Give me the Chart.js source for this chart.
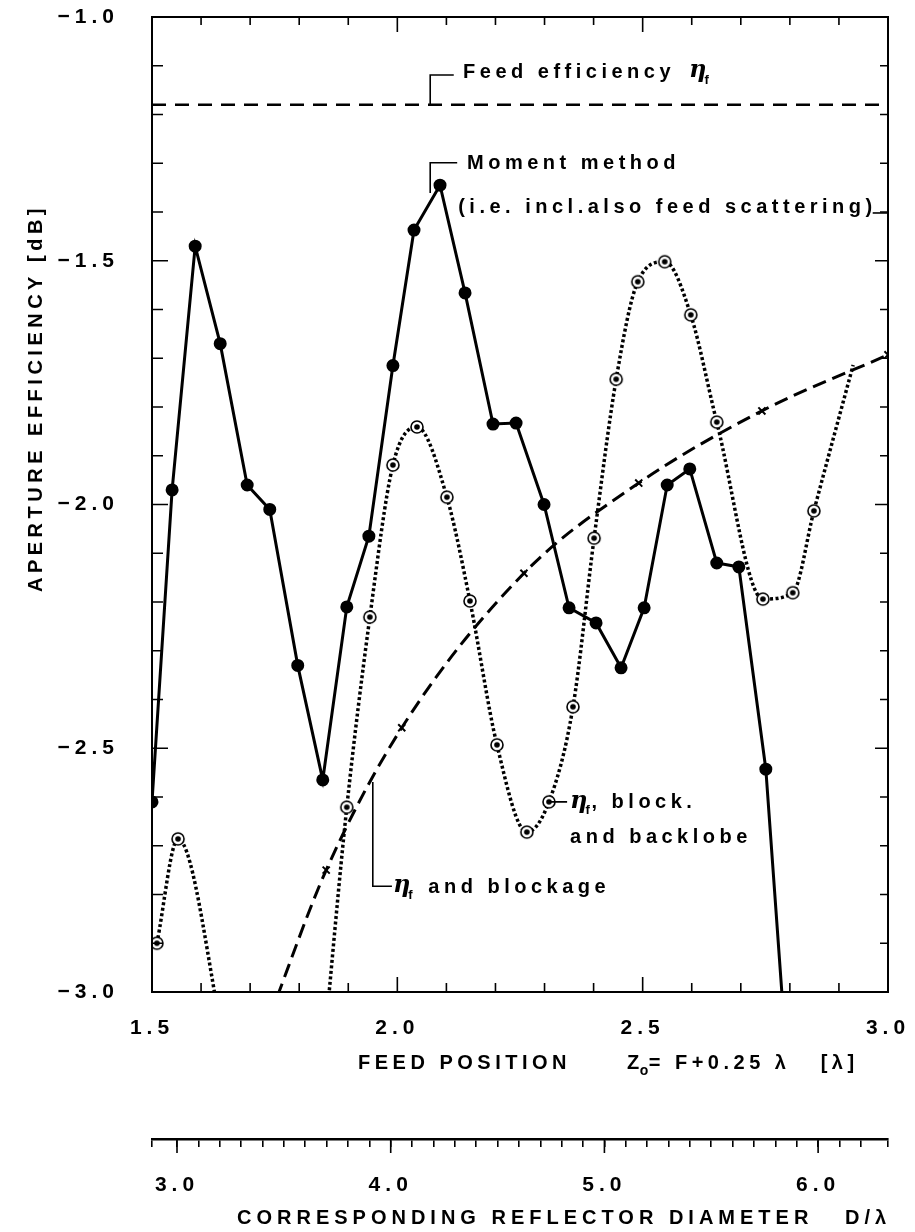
<!DOCTYPE html>
<html>
<head>
<meta charset="utf-8">
<script src="https://cdn.jsdelivr.net/npm/chart.js@4.4.1/dist/chart.umd.min.js"></script>
<style>
  html, body { margin: 0; padding: 0; background: #fff; }
  #wrap { width: 915px; height: 1232px; position: relative; }
</style>
</head>
<body>
<div id="wrap"><canvas id="myChart"></canvas></div>
<script>
// feed position Z0 [lambda] vs aperture efficiency [dB]
const momentX = [1.500, 1.541, 1.588, 1.639, 1.694, 1.740, 1.797, 1.848, 1.897, 1.942, 1.991, 2.034, 2.087, 2.138, 2.195, 2.242, 2.299, 2.350, 2.405, 2.456, 2.503, 2.550, 2.596, 2.651, 2.696, 2.751, 2.800];
const momentY = [-2.61, -1.97, -1.47, -1.67, -1.96, -2.01, -2.33, -2.565, -2.21, -2.065, -1.715, -1.437, -1.345, -1.566, -1.835, -1.833, -2.00, -2.212, -2.243, -2.335, -2.212, -1.96, -1.927, -2.12, -2.128, -2.543, -3.23];
const momentMark = [1, 1, 1, 1, 1, 1, 1, 1, 1, 1, 1, 1, 1, 1, 1, 1, 1, 1, 1, 1, 1, 1, 1, 1, 1, 1, 0];

// eta_f, blockage and backlobe
const backlobeX = [1.510, 1.553, 1.650, 1.750, 1.850, 1.897, 1.944, 1.991, 2.040, 2.101, 2.148, 2.203, 2.264, 2.309, 2.358, 2.401, 2.446, 2.490, 2.545, 2.598, 2.651, 2.745, 2.806, 2.849, 2.929];
const backlobeY = [-2.90, -2.686, -3.12, null, -3.12, -2.621, -2.231, -1.919, -1.841, -1.985, -2.198, -2.493, -2.672, -2.610, -2.415, -2.069, -1.743, -1.543, -1.502, -1.611, -1.831, -2.194, -2.181, -2.013, -1.714];
const backlobeMark = [1, 1, 0, 0, 0, 1, 1, 1, 1, 1, 1, 1, 1, 1, 1, 1, 1, 1, 1, 1, 1, 1, 1, 1, 0];

// eta_f and blockage
const blockX = [1.740, 1.855, 2.009, 2.258, 2.492, 2.743, 3.000];
const blockY = [-3.05, -2.750, -2.458, -2.141, -1.956, -1.808, -1.693];
const blockMark = [0, 1, 1, 1, 1, 1, 1];

// feed efficiency
const feedX = [1.5, 3.0];
const feedY = [-1.18, -1.18];

const xTicks = [1.5, 2.0, 2.5, 3.0];
const yTicks = [-3.0, -2.5, -2.0, -1.5, -1.0];
const diamTicks = [3.0, 4.0, 5.0, 6.0];
const diamMin = 2.883, diamMax = 6.327;

const FONT = '"Liberation Sans", Arial, sans-serif';
Chart.defaults.font.family = FONT;
Chart.defaults.font.size = 21;
Chart.defaults.font.weight = 'bold';
Chart.defaults.color = '#000';

const pts = (xs, ys) => xs.map((x, i) => ({x: x, y: ys[i]}));

const ringDot = (() => {
  const c = document.createElement('canvas');
  c.width = 16; c.height = 16;
  const g = c.getContext('2d');
  g.strokeStyle = '#000'; g.lineWidth = 1.6; g.fillStyle = '#fff';
  g.beginPath(); g.arc(8, 8, 6, 0, Math.PI * 2); g.fill(); g.stroke();
  g.fillStyle = '#000';
  g.beginPath(); g.arc(8, 8, 2.8, 0, Math.PI * 2); g.fill();
  return c;
})();

function txt(ctx, s, x, y, font, spacing) {
  ctx.font = font || ('bold 20px ' + FONT);
  ctx.letterSpacing = (spacing == null ? 4.5 : spacing) + 'px';
  ctx.textAlign = 'left';
  ctx.textBaseline = 'middle';
  ctx.fillText(s, x, y);
  return ctx.measureText(s).width;
}

function eta(ctx, x, y) {
  const w = txt(ctx, 'η', x, y - 1, 'italic bold 24px "DejaVu Serif", serif', 0);
  txt(ctx, 'f', x + w - 2, y + 8, 'bold 13px ' + FONT, 0);
  return w + 6;
}

const decorations = {
  id: 'decorations',
  beforeDraw(chart) {
    chart.ctx.letterSpacing = '5px';
  },
  afterDraw(chart) {
    const {ctx, chartArea: a, scales} = chart;
    const {x, y, x2} = scales;
    ctx.save();
    ctx.strokeStyle = '#000';
    ctx.fillStyle = '#000';

    // frame
    ctx.lineWidth = 2;
    ctx.strokeRect(a.left, a.top, a.right - a.left, a.bottom - a.top);

    // inward ticks
    ctx.lineWidth = 1.6;
    ctx.beginPath();
    for (let i = 0; i <= 15; i++) {
      const px = x.getPixelForValue(1.5 + i * 0.1);
      const big = i % 5 === 0;
      ctx.moveTo(px, a.bottom); ctx.lineTo(px, a.bottom - (big ? 15 : 9));
      ctx.moveTo(px, a.top); ctx.lineTo(px, a.top + (big ? 15 : 8));
    }
    for (let i = 0; i <= 20; i++) {
      const py = y.getPixelForValue(-3 + i * 0.1);
      const big = i % 5 === 0;
      ctx.moveTo(a.left, py); ctx.lineTo(a.left + (big ? 16 : 11), py);
      ctx.moveTo(a.right, py); ctx.lineTo(a.right - (big ? 13 : 8), py);
    }
    // longer major ticks on the diameter axis
    diamTicks.forEach(v => {
      const px = x2.getPixelForValue(v);
      ctx.moveTo(px, x2.top); ctx.lineTo(px, x2.top + 14);
    });
    ctx.stroke();

    // annotations
    const X = v => x.getPixelForValue(v);
    const Y = v => y.getPixelForValue(v);
    ctx.lineWidth = 1.6;
    ctx.beginPath();
    // feed efficiency
    ctx.moveTo(X(2.067), Y(-1.18)); ctx.lineTo(X(2.067), Y(-1.119)); ctx.lineTo(X(2.115), Y(-1.119));
    // moment method
    ctx.moveTo(X(2.067), Y(-1.361)); ctx.lineTo(X(2.067), Y(-1.299)); ctx.lineTo(X(2.122), Y(-1.299));
    // block + backlobe
    ctx.moveTo(X(2.309), Y(-2.610)); ctx.lineTo(X(2.346), Y(-2.610));
    // blockage
    ctx.moveTo(X(1.950), Y(-2.569)); ctx.lineTo(X(1.950), Y(-2.783)); ctx.lineTo(X(1.989), Y(-2.783));
    ctx.stroke();

    let w = txt(ctx, 'Feed efficiency', X(2.134), Y(-1.113));
    eta(ctx, X(2.134) + w + 14, Y(-1.113));

    txt(ctx, 'Moment method', X(2.142), Y(-1.301));
    w = txt(ctx, '(i.e. incl.also feed scattering)', X(2.124), Y(-1.39));
    ctx.beginPath();
    ctx.moveTo(X(2.124) + w - 4, Y(-1.402)); ctx.lineTo(a.right, Y(-1.402));
    ctx.stroke();

    w = eta(ctx, X(2.352), Y(-2.612));
    txt(ctx, ', block.', X(2.352) + w - 2, Y(-2.612));
    txt(ctx, 'and backlobe', X(2.352), Y(-2.684));

    w = eta(ctx, X(1.991), Y(-2.785));
    txt(ctx, 'and blockage', X(1.991) + w + 12, Y(-2.785));

    // axis titles
    ctx.save();
    ctx.translate(36, 398);
    ctx.rotate(-Math.PI / 2);
    ctx.font = 'bold 20px ' + FONT;
    ctx.letterSpacing = '4.5px';
    ctx.textAlign = 'center';
    ctx.textBaseline = 'middle';
    ctx.fillText('APERTURE EFFICIENCY [dB]', 0, 0);
    ctx.restore();

    const ty = a.bottom + 71;
    txt(ctx, 'FEED POSITION', a.left + 206, ty);
    w = txt(ctx, 'Z', a.left + 475, ty);
    txt(ctx, 'o', a.left + 475 + w - 4, ty + 8, 'bold 14px ' + FONT, 0);
    txt(ctx, '= F+0.25 λ   [λ]', a.left + 475 + w + 5, ty);

    txt(ctx, 'CORRESPONDING REFLECTOR DIAMETER   D/λ', 237, x2.top + 79, null, 5);
    ctx.restore();
  }
};

const ctx = document.getElementById('myChart');
new Chart(ctx, {
  type: 'line',
  data: {
    datasets: [
      {
        label: 'Moment method',
        data: pts(momentX, momentY),
        borderColor: '#000',
        borderWidth: 3,
        pointStyle: 'circle',
        pointRadius: momentMark.map(m => m ? 5 : 0),
        pointBackgroundColor: '#000',
        pointBorderColor: '#000',
        tension: 0
      },
      {
        label: 'ηf, block. and backlobe',
        data: pts(backlobeX, backlobeY),
        borderColor: '#000',
        borderWidth: 3.5,
        borderDash: [3, 2.5],
        cubicInterpolationMode: 'monotone',
        spanGaps: false,
        pointStyle: ringDot,
        pointRadius: backlobeMark.map(m => m ? 6 : 0)
      },
      {
        label: 'ηf and blockage',
        data: pts(blockX, blockY),
        borderColor: '#000',
        borderWidth: 3,
        borderDash: [14, 7],
        cubicInterpolationMode: 'monotone',
        pointStyle: 'crossRot',
        pointRadius: blockMark.map(m => m ? 5 : 0),
        pointBorderColor: '#000',
        pointBorderWidth: 2
      },
      {
        label: 'Feed efficiency',
        data: pts(feedX, feedY),
        borderColor: '#000',
        borderWidth: 2.5,
        borderDash: [14, 9],
        pointRadius: 0
      }
    ]
  },
  options: {
    responsive: true,
    maintainAspectRatio: false,
    animation: false,
    layout: { padding: { left: 0, top: 17, right: 27, bottom: 0 } },
    plugins: { legend: { display: false }, tooltip: { enabled: false } },
    scales: {
      x: {
        type: 'linear',
        position: 'bottom',
        min: 1.5,
        max: 3.0,
        weight: 0,
        afterBuildTicks: s => { s.ticks = xTicks.map(v => ({value: v})); },
        afterFit: s => { s.height = 147; },
        ticks: { padding: 3, autoSkip: false, maxRotation: 0, callback: v => v.toFixed(1) },
        grid: { display: true, drawOnChartArea: false, drawTicks: true, tickLength: 21, color: 'rgba(0,0,0,0)' },
        border: { display: false }
      },
      x2: {
        type: 'linear',
        position: 'bottom',
        min: diamMin,
        max: diamMax,
        weight: 1,
        afterFit: s => { s.height = 93; },
        ticks: {
          stepSize: 0.1,
          autoSkip: false,
          maxRotation: 0,
          padding: 26,
          callback: v => diamTicks.some(d => Math.abs(d - v) < 1e-6) ? v.toFixed(1) : ''
        },
        grid: { drawOnChartArea: false, drawTicks: true, tickLength: 8, color: '#000', lineWidth: 1.6 },
        border: { display: true, color: '#000', width: 2.5 }
      },
      y: {
        type: 'linear',
        position: 'left',
        min: -3.0,
        max: -1.0,
        afterBuildTicks: s => { s.ticks = yTicks.map(v => ({value: v})); },
        afterFit: s => { s.width = 152; },
        ticks: { padding: 3, callback: v => v.toFixed(1).replace('-', '−') },
        grid: { display: true, drawOnChartArea: false, drawTicks: true, tickLength: 30, color: 'rgba(0,0,0,0)' },
        border: { display: false }
      }
    }
  },
  plugins: [decorations]
});
</script>
</body>
</html>
